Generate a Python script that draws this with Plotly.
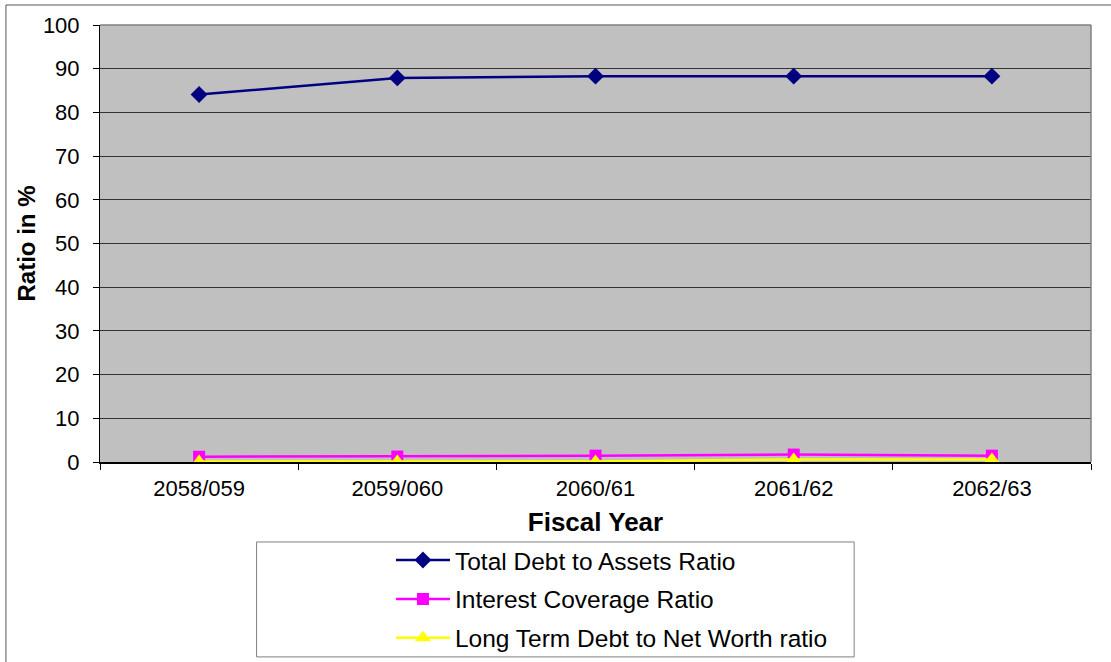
import plotly.graph_objects as go

years = ["2058/059", "2059/060", "2060/61", "2061/62", "2062/63"]
total_debt_to_assets = [84.1, 87.9, 88.3, 88.3, 88.3]
interest_coverage = [1.2, 1.25, 1.45, 1.7, 1.45]
lt_debt_to_net_worth = [0.1, 0.1, 0.1, 0.6, 0.6]

series = [
    ("Total Debt to Assets Ratio", total_debt_to_assets, "#000080", "diamond", 13),
    ("Interest Coverage Ratio", interest_coverage, "#FF00FF", "square", 12),
    ("Long Term Debt to Net Worth ratio", lt_debt_to_net_worth, "#FFFF00", "triangle-up", 14),
]

fig = go.Figure()
for i, (name, vals, color, sym, size) in enumerate(series):
    fig.add_trace(go.Scatter(
        x=years, y=vals, name=name, mode="lines+markers",
        line=dict(color=color, width=2.5),
        marker=dict(symbol=sym, size=size, color=color),
        legendgroup=str(i),
    ))

font = "Liberation Sans, Arial, sans-serif"

fig.update_layout(
    width=1111, height=662,
    margin=dict(l=100, r=20, t=25, b=200, autoexpand=False),
    paper_bgcolor="white",
    plot_bgcolor="#C0C0C0",
    font=dict(family=font, color="black", size=22),
    showlegend=True,
    legend=dict(
        x=0.2936, y=-0.173, xanchor="left", yanchor="top",
        bgcolor="rgba(0,0,0,0)", borderwidth=0,
        font=dict(family=font, size=24.5, color="black"),
        tracegroupgap=4, itemwidth=54,
    ),
    xaxis=dict(
        type="category", range=[-0.5, 4.5],
        showgrid=False, zeroline=False,
        ticks="outside", tickson="boundaries", ticklen=6, tickcolor="black",
        showline=True, linecolor="black", linewidth=2,
        tickfont=dict(size=22), ticklabelstandoff=6,
        title=dict(text="<b>Fiscal Year</b>", font=dict(size=26), standoff=12),
    ),
    yaxis=dict(
        range=[0, 100], dtick=10,
        showgrid=True, gridcolor="#333333", gridwidth=1,
        zeroline=False,
        ticks="outside", ticklen=6, tickcolor="black",
        showline=True, linecolor="black", linewidth=1,
        tickfont=dict(size=22), ticklabelstandoff=9,
        title=dict(text="<b>Ratio in %</b>", font=dict(size=24), standoff=0),
    ),
    shapes=[
        # plot area frame (right & top edges)
        dict(type="line", xref="paper", yref="paper", x0=1, x1=1, y0=0, y1=1,
             line=dict(color="#808080", width=1.5)),
        dict(type="line", xref="paper", yref="paper", x0=0, x1=1, y0=1, y1=1,
             line=dict(color="#808080", width=1.5)),
        # legend box
        dict(type="rect", xref="paper", yref="paper",
             x0=0.158, x1=0.761, y0=-0.446, y1=-0.183,
             line=dict(color="#808080", width=1), fillcolor="rgba(0,0,0,0)"),
        # chart area outer border
        dict(type="line", xref="paper", yref="paper", x0=-0.0949, x1=1.03,
             y0=1.0458, y1=1.0458, line=dict(color="#555555", width=1)),
        dict(type="line", xref="paper", yref="paper", x0=-0.0949, x1=-0.0949,
             y0=1.0458, y1=-0.52, line=dict(color="#555555", width=1)),
    ],
)

fig.write_html("out.html")
